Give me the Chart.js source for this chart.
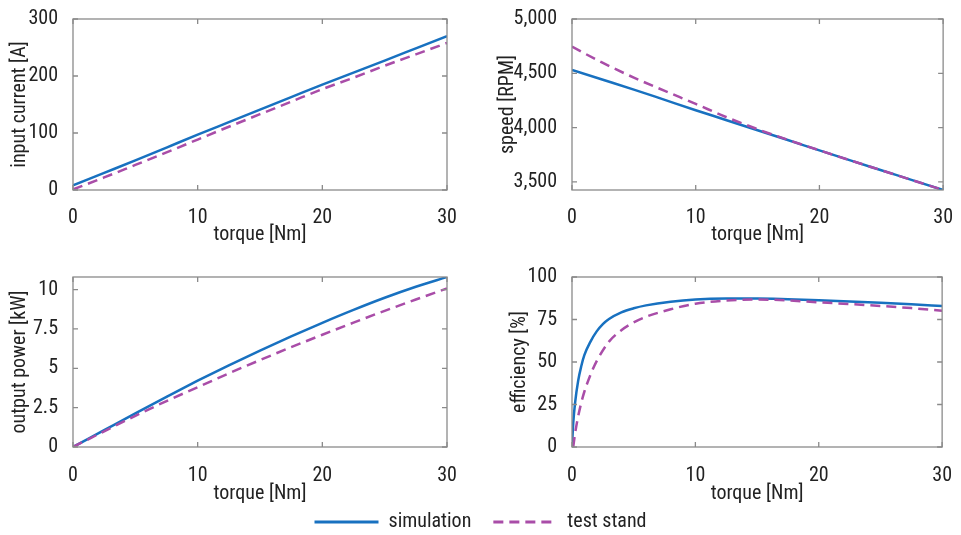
<!DOCTYPE html>
<html>
<head>
<meta charset="utf-8">
<script src="https://cdn.jsdelivr.net/npm/chart.js@4.4.1/dist/chart.umd.min.js"></script>
<style>
  body { margin: 0; background: #fff; width: 961px; height: 535px; position: relative; overflow: hidden; }
  canvas { position: absolute; }
</style>
</head>
<body>
<canvas id="cur" width="480" height="250" style="left:0;top:0"></canvas>
<canvas id="spd" width="481" height="250" style="left:480px;top:0"></canvas>
<canvas id="pwr" width="480" height="250" style="left:0;top:258px"></canvas>
<canvas id="eff" width="481" height="250" style="left:480px;top:258px"></canvas>
<canvas id="leg" width="961" height="160" style="left:0;top:490px"></canvas>
<script>
// torque points used for current, speed and power
var torque = [0, 2.5, 5, 7.5, 10, 12.5, 15, 17.5, 20, 22.5, 25, 27.5, 30];

var currentSim  = [8, 30, 52, 74.5, 97, 119, 141, 163, 185, 206, 227, 248.5, 270];
var currentTest = [1, 22, 44, 66, 88.5, 111, 133, 155, 177, 197, 218, 238, 258];

var speedSim  = [4530, 4440, 4350, 4255, 4160, 4068, 3975, 3883, 3790, 3698, 3607, 3516, 3425];
var speedTest = [4745, 4595, 4460, 4338, 4218, 4095, 3985, 3885, 3790, 3698, 3607, 3516, 3425];

var powerSim  = [0, 1.07, 2.14, 3.19, 4.21, 5.19, 6.13, 7.03, 7.89, 8.71, 9.48, 10.18, 10.8];
var powerTest = [0, 1.0, 1.98, 2.92, 3.8, 4.68, 5.52, 6.34, 7.13, 7.9, 8.65, 9.37, 10.07];

// efficiency needs more points near zero torque
var torqueEffSim  = [0, 0.1, 0.25, 0.5, 0.75, 1, 1.5, 2, 2.5, 3, 4, 5, 6, 8, 10, 12.5, 15, 17.5, 20, 22.5, 25, 27.5, 30];
var effSim        = [0, 14, 26, 39, 47.5, 54, 62, 68, 72.3, 75.3, 79.2, 81.6, 83.3, 85.5, 86.8, 87.3, 87.3, 86.9, 86.3, 85.6, 84.8, 83.9, 82.9];
var torqueEffTest = [0.1, 0.25, 0.5, 0.75, 1, 1.5, 2, 3, 4, 5, 6, 8, 10, 12.5, 15, 17.5, 20, 22.5, 25, 27.5, 30];
var effTest       = [0, 8, 18, 26, 32.5, 42.5, 50.5, 62, 68.7, 73.3, 76.6, 81, 84.3, 86.1, 86.8, 86.2, 85.1, 84.1, 83, 81.7, 80.2];

// tick labels
var xTicks = [0, 10, 20, 30];
var currentTicks = [0, 100, 200, 300];
var speedTicks = [3500, 4000, 4500, 5000];
var powerTicks = [0, 2.5, 5, 7.5, 10];
var effTicks = [0, 25, 50, 75, 100];

var BLUE = '#1871c0';
var MAG = '#a94da8';
var TXT = '#222222';
// "condensed" goes into the canvas font shorthand (Roboto is a variable font with a width axis)
var FONT = { family: 'Roboto, "Liberation Sans", sans-serif', size: 20, weight: 'condensed' };

function pts(xs, ys) {
  return xs.map(function(x, i) { return { x: x, y: ys[i] }; });
}

// MATLAB style box with inward ticks on all four sides
var framePlugin = {
  id: 'frame',
  afterDraw: function(chart) {
    var ctx = chart.ctx, a = chart.chartArea, x = chart.scales.x, y = chart.scales.y;
    var len = 5;
    ctx.save();
    ctx.strokeStyle = '#8a8a8a';
    ctx.lineWidth = 1.3;
    ctx.strokeRect(a.left, a.top, a.right - a.left, a.bottom - a.top);
    ctx.beginPath();
    x.ticks.forEach(function(t) {
      var px = x.getPixelForValue(t.value);
      ctx.moveTo(px, a.bottom); ctx.lineTo(px, a.bottom - len);
      ctx.moveTo(px, a.top); ctx.lineTo(px, a.top + len);
    });
    y.ticks.forEach(function(t) {
      var py = y.getPixelForValue(t.value);
      ctx.moveTo(a.left, py); ctx.lineTo(a.left + len, py);
      ctx.moveTo(a.right, py); ctx.lineTo(a.right - len, py);
    });
    ctx.stroke();
    ctx.restore();
  }
};

function makePlot(id, cfg) {
  return new Chart(document.getElementById(id), {
    type: 'line',
    data: {
      datasets: [{
        label: 'simulation',
        data: cfg.sim,
        borderColor: BLUE,
        borderWidth: 2.5,
        pointRadius: 0,
        cubicInterpolationMode: 'monotone',
        order: 1
      }, {
        label: 'test stand',
        data: cfg.test,
        borderColor: MAG,
        borderWidth: 2.5,
        borderDash: [10, 6],
        pointRadius: 0,
        cubicInterpolationMode: 'monotone',
        order: 0
      }]
    },
    options: {
      responsive: false,
      animation: false,
      layout: { padding: { top: 15, right: cfg.right, left: 0, bottom: 0 } },
      plugins: { legend: { display: false }, tooltip: { enabled: false } },
      scales: {
        x: {
          type: 'linear',
          min: 0,
          max: 30,
          afterBuildTicks: function(s) { s.ticks = xTicks.map(function(v) { return { value: v }; }); },
          afterFit: function(s) { s.height = cfg.xh; },
          grid: { display: false },
          border: { display: false },
          ticks: { padding: cfg.xPad, color: TXT, font: FONT, maxRotation: 0, autoSkip: false },
          title: { display: true, text: 'torque [Nm]', color: TXT, font: FONT, padding: { top: 0, bottom: cfg.xtPad } }
        },
        y: {
          type: 'linear',
          min: cfg.yMin,
          max: cfg.yMax,
          afterBuildTicks: function(s) { s.ticks = cfg.yTicks.map(function(v) { return { value: v }; }); },
          afterFit: function(s) { s.width = cfg.yw; },
          grid: { display: false },
          border: { display: false },
          ticks: {
            padding: 7, color: TXT, font: FONT, autoSkip: false,
            callback: function(v) { return cfg.fmt ? cfg.fmt(v) : String(v); }
          },
          title: { display: true, text: cfg.yTitle, color: TXT, font: FONT, padding: { top: cfg.tPad, bottom: 0 } }
        }
      }
    },
    plugins: [framePlugin]
  });
}

makePlot('cur', {
  sim: pts(torque, currentSim), test: pts(torque, currentTest),
  yMin: 0, yMax: 300, yTicks: currentTicks, yTitle: 'input current [A]',
  yw: 73, right: 33, xh: 60, xPad: 8, xtPad: 3, tPad: 8
});

makePlot('spd', {
  sim: pts(torque, speedSim), test: pts(torque, speedTest),
  yMin: 3425, yMax: 5000, yTicks: speedTicks, yTitle: 'speed [RPM]',
  fmt: function(v) { return v.toLocaleString('en-US'); },
  yw: 92, right: 15, xh: 60, xPad: 8, xtPad: 3, tPad: 16
});

makePlot('pwr', {
  sim: pts(torque, powerSim), test: pts(torque, powerTest),
  yMin: 0, yMax: 10.8, yTicks: powerTicks, yTitle: 'output power [kW]',
  yw: 73, right: 33, xh: 61, xPad: 9, xtPad: 2, tPad: 8
});

makePlot('eff', {
  sim: pts(torqueEffSim, effSim), test: pts(torqueEffTest, effTest),
  yMin: 0, yMax: 100, yTicks: effTicks, yTitle: 'efficiency [%]',
  yw: 92, right: 15, xh: 61, xPad: 9, xtPad: 2, tPad: 28
});

// shared legend under the four plots
new Chart(document.getElementById('leg'), {
  type: 'line',
  data: {
    datasets: [
      { label: 'simulation', data: [], borderColor: BLUE, backgroundColor: BLUE, borderWidth: 3 },
      { label: 'test stand', data: [], borderColor: MAG, backgroundColor: MAG, borderWidth: 3, borderDash: [10, 6] }
    ]
  },
  options: {
    responsive: false,
    animation: false,
    layout: { padding: 0 },
    scales: { x: { display: false }, y: { display: false } },
    plugins: {
      tooltip: { enabled: false },
      legend: {
        position: 'top',
        labels: {
          usePointStyle: true, pointStyle: 'line', pointStyleWidth: 64,
          color: TXT, font: FONT, padding: 22,
          // point style items do not carry the dataset dash, so copy it over
          generateLabels: function(chart) {
            var items = Chart.defaults.plugins.legend.labels.generateLabels(chart);
            items.forEach(function(it) {
              var ds = chart.data.datasets[it.datasetIndex];
              it.lineDash = ds.borderDash || [];
              it.strokeStyle = ds.borderColor;
              it.lineWidth = 3;
            });
            return items;
          }
        }
      }
    }
  }
});
</script>
</body>
</html>
